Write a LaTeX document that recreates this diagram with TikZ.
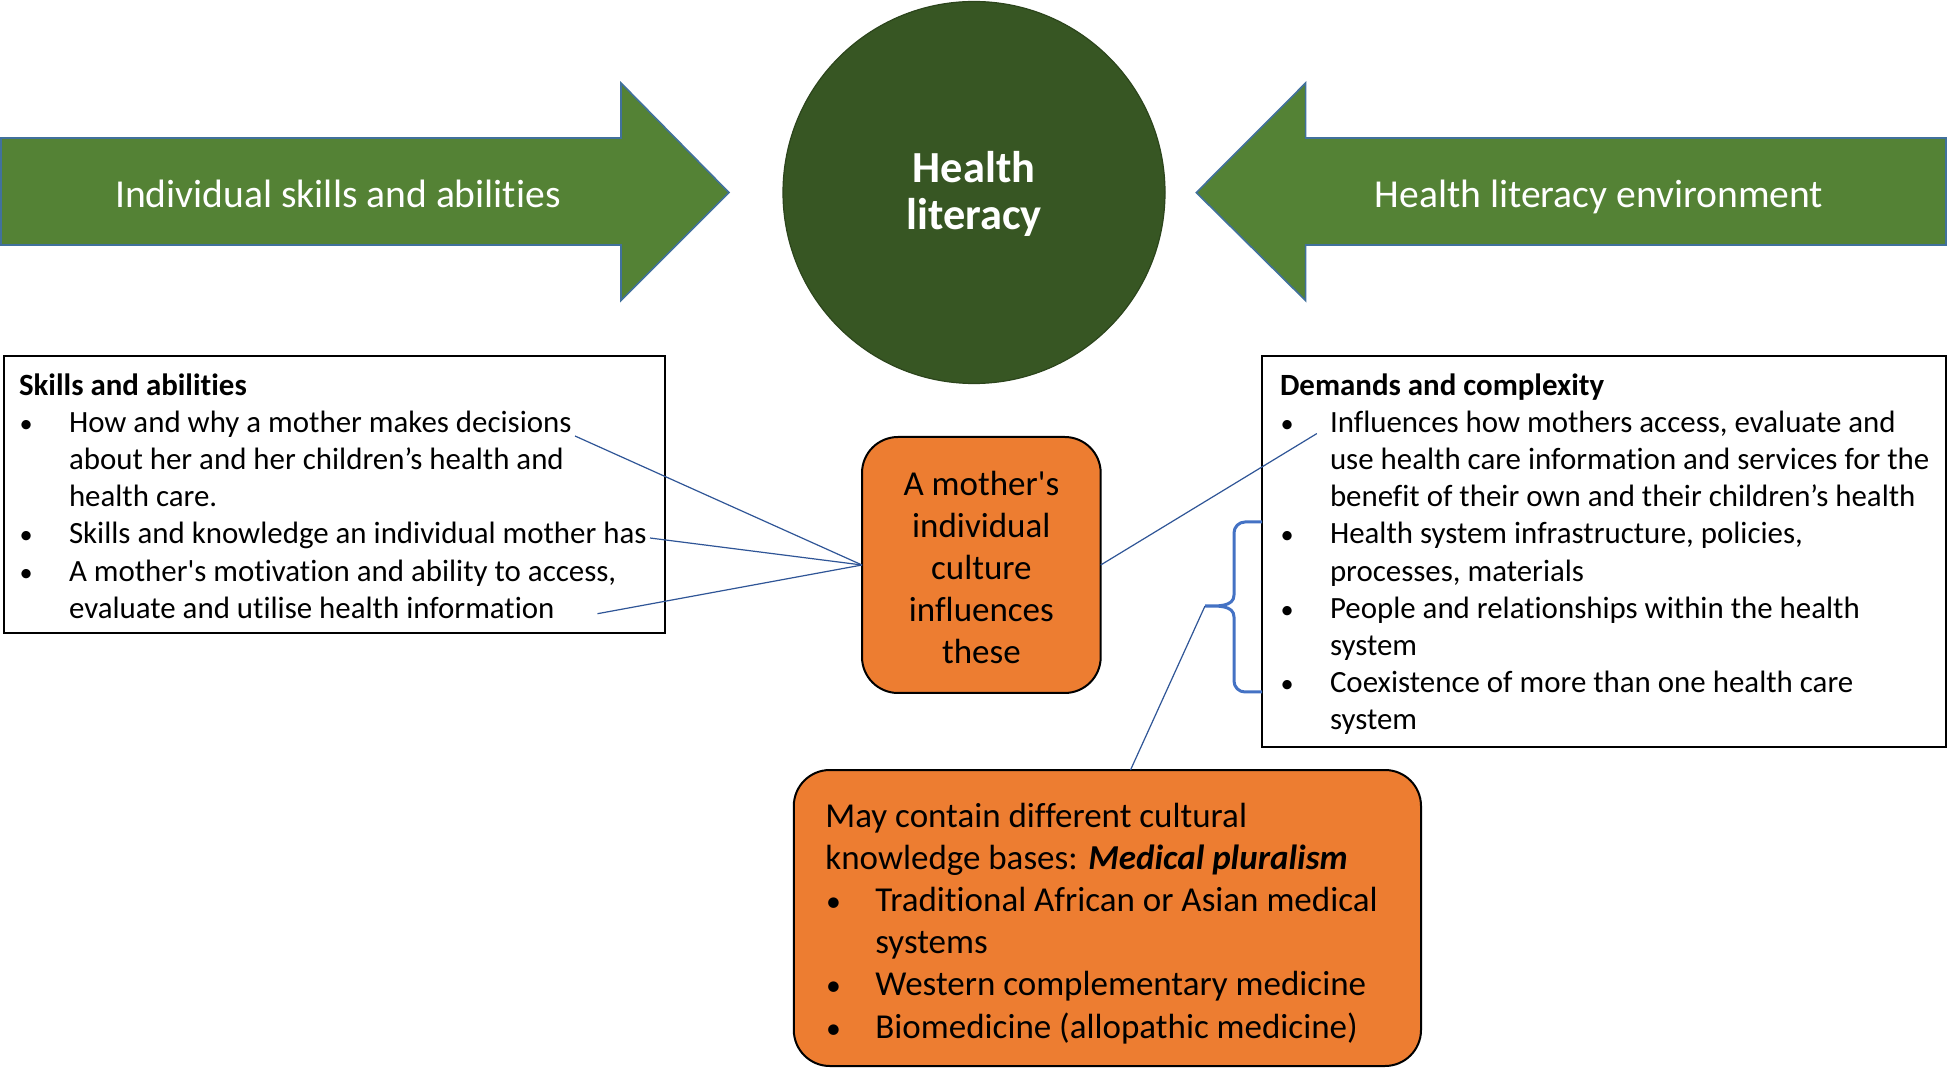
\documentclass[tikz,border=0pt]{standalone}
\usepackage{graphicx}
\usepackage{fontspec}
\setmainfont{Carlito}[Ligatures={NoCommon,TeXOff}]
\definecolor{arrgreen}{HTML}{548235}
\definecolor{arrblue}{HTML}{41719C}
\definecolor{circgreen}{HTML}{375623}
\definecolor{orangefill}{HTML}{ED7D31}
\definecolor{linkblue}{HTML}{2F5597}
\definecolor{bracecol}{HTML}{4472C4}
\newcommand{\bul}{\makebox[25pt][l]{\hspace{0.3pt}\scalebox{0.85}{\textbullet}}}
\newcommand{\ind}{\hspace*{25pt}}
\tikzset{
  bigarrow/.style={fill=arrgreen, draw=arrblue, line width=0.8pt, line join=miter},
  arrtext/.style={text=white, font=\fontsize{19.8}{23}\selectfont, inner sep=0pt, anchor=base},
  wbox/.style={draw=black, line width=1pt, fill=white, inner sep=0pt, outer sep=0pt, anchor=north west},
  obox/.style={draw=black, line width=1pt, fill=orangefill, rounded corners=18pt, inner sep=0pt, outer sep=0pt, anchor=north west},
  bodytext/.style={align=left, inner sep=0pt, anchor=north west, font=\fontsize{15.45}{18.6}\selectfont},
  bigtext/.style={inner sep=0pt, font=\fontsize{17.5}{21.1}\selectfont},
  link/.style={draw=linkblue, line width=0.6pt},
}
\begin{document}
\begin{tikzpicture}[x=0.5pt,y=-0.5pt]
\useasboundingbox (0,0) rectangle (1948,1068);
\fill[white] (0,0) rectangle (1948,1068);
% arrows
\draw[bigarrow] (1,138) -- (621,138) -- (621,83) -- (729,192.6) -- (621,300.6) -- (621,245) -- (1,245) -- cycle;
\draw[bigarrow] (1946,138) -- (1305.6,138) -- (1305.6,83) -- (1196.3,192.6) -- (1305.6,300.6) -- (1305.6,245) -- (1946,245) -- cycle;
\node[arrtext] (ltxt) at (338,207.5) {Individual skills and abilities};
\node[arrtext] (rtxt) at (1599,207.5) {Health literacy environment};
% circle
\node[circle, fill=circgreen, draw=circgreen!80!black, line width=0.6pt, minimum size=191pt, inner sep=0pt] (hl) at (974,192.5) {};
\node[text=white, align=center, inner sep=0pt, font=\bfseries\fontsize{22.2}{23.6}\selectfont] (hltxt) at (974,194.2) {Health\\literacy};
% boxes
\node[wbox, minimum width=330.65pt, minimum height=138.5pt] (lbox) at (3.7,356.5) {};
\node[wbox, minimum width=341.75pt, minimum height=195pt] (rbox) at (1262,356.5) {};
\node[obox, minimum width=119.35pt, minimum height=128pt] (cbox) at (862,437) {};
\node[obox, minimum width=313.6pt, minimum height=148pt] (bbox) at (793.8,770) {};
% texts
\node[bodytext] (ltext) at (18.6,373) {\textbf{Skills and abilities}\\
\bul How and why a mother makes decisions\\
\ind about her and her children’s health and\\
\ind health care.\\
\bul Skills and knowledge an individual mother has\\
\bul A mother's motivation and ability to access,\\
\ind evaluate and utilise health information};
\node[bodytext] (rtext) at (1279.6,373) {\textbf{Demands and complexity}\\
\bul Influences how mothers access, evaluate and\\
\ind use health care information and services for the\\
\ind benefit of their own and their children’s health\\
\bul Health system infrastructure, policies,\\
\ind processes, materials\\
\bul People and relationships within the health\\
\ind system\\
\bul Coexistence of more than one health care\\
\ind system};
\node[bigtext, align=center] (ctext) at ([yshift=-1.25pt]cbox.center) {A mother's\\individual\\culture\\influences\\these};
\node[bigtext, align=left, anchor=north west] (btext) at (825,802.3) {May contain different cultural\\
knowledge bases: \textbf{\textit{Medical pluralism}}\\
\bul Traditional African or Asian medical\\
\ind systems\\
\bul Western complementary medicine\\
\bul Biomedicine (allopathic medicine)};
% connectors
\coordinate (l1) at (575,436);
\coordinate (l2) at (650,538);
\coordinate (l3) at (597.5,613.7);
\coordinate (r1) at (1316.8,433.6);
\draw[link] (l1) -- (cbox.west);
\draw[link] (l2) -- (cbox.west);
\draw[link] (l3) -- (cbox.west);
\draw[link] (cbox.east) -- (r1);
% brace
\coordinate (btip) at (1205,606);
\coordinate (btop) at (rbox.west |- 0,522);
\coordinate (bbot) at (rbox.west |- 0,692);
\draw[bracecol, line width=1.5pt] (btop) -- (1245,522) to[out=180,in=90] (1234,533) -- (1234,595) to[out=-90,in=0] (btip) to[out=0,in=90] (1234,617) -- (1234,681) to[out=-90,in=180] (1245,692) -- (bbot);
\coordinate (bt) at (1130.5,770);
\draw[link] (bt) -- (btip);
\end{tikzpicture}
\end{document}
